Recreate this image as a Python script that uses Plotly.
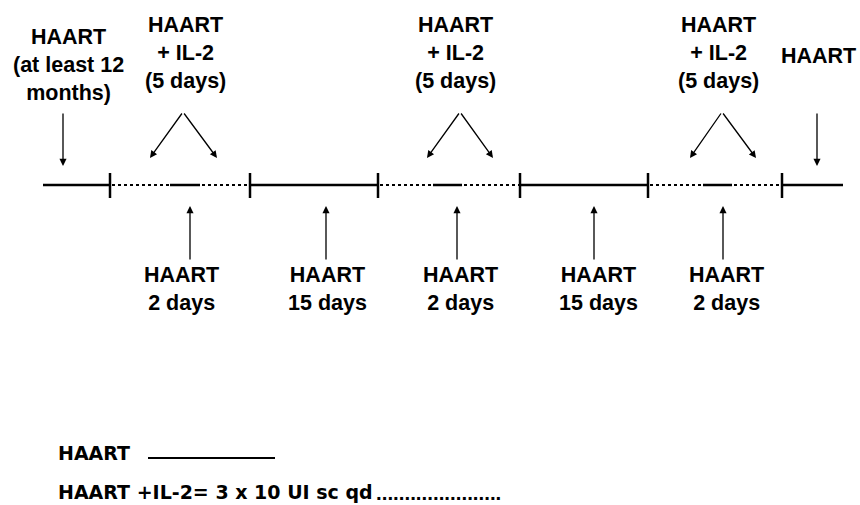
import plotly.graph_objects as go

# ---- data (pixel-space diagram coordinates) ----
timeline_y = 185
phase_bounds = [110, 250, 378, 520, 648, 782]          # tick marks
haart_segments = [(43, 110), (250, 378), (520, 648), (782, 843)]
il2_periods = [(110, 250), (378, 520), (648, 782)]
il2_break = [(170, 200), (433, 462), (703, 732)]       # solid "HAART 2 days" inside IL-2 periods

top_labels = ["HAART<br>(at least 12<br>months)", "HAART<br>+ IL-2<br>(5 days)",
              "HAART<br>+ IL-2<br>(5 days)", "HAART<br>+ IL-2<br>(5 days)", "HAART"]
top_label_x = [68, 185, 455, 718, 818]
top_label_y = [65, 53, 53, 53, 56]

down_arrow_x = [63, 817]
v_apex = [(183, 112), (460, 112), (722, 112)]
v_ends = [((150, 158), (217, 158)), ((427, 158), (493, 158)), ((690, 158), (756, 158))]

bottom_labels = ["HAART<br>2 days", "HAART<br>15 days", "HAART<br>2 days",
                 "HAART<br>15 days", "HAART<br>2 days"]
bottom_arrow_x = [190, 326, 457, 594, 723]
bottom_label_x = [181, 327, 460, 598, 726]

legend_texts = ["HAART", "HAART +IL-2= 3 x 10 UI sc qd"]
legend_dots = "." * 22

FONT = dict(family="Liberation Sans, Arial, sans-serif", size=21.5, color="black", weight="bold")
LEG_FONT = dict(family="DejaVu Sans, sans-serif", size=19, color="black", weight="bold")
DOT_FONT = dict(family="Liberation Sans, Arial, sans-serif", size=20.5, color="black", weight="bold")

W, H = 860, 505

fig = go.Figure()

def seg(x0, x1, y0, y1, width=2, dash="solid"):
    fig.add_trace(go.Scatter(x=[x0, x1], y=[y0, y1], mode="lines",
                             line=dict(color="black", width=width, dash=dash),
                             hoverinfo="skip", showlegend=False))

for a, b in haart_segments:
    seg(a, b, timeline_y, timeline_y, width=2.5)
for (a, b), (c, d) in zip(il2_periods, il2_break):
    seg(a + 2, c, timeline_y, timeline_y, width=2, dash="dot")
    seg(c, d, timeline_y, timeline_y, width=2.5)
    seg(d + 2, b, timeline_y, timeline_y, width=2, dash="dot")
for x in phase_bounds:
    seg(x, x, timeline_y - 12, timeline_y + 13, width=2.5)

annotations = []

def arrow(x0, y0, x1, y1):
    annotations.append(dict(x=x1, y=y1, ax=x0, ay=y0, xref="x", yref="y", axref="x", ayref="y",
                            showarrow=True, arrowhead=2, arrowsize=1.1, arrowwidth=1.3,
                            arrowcolor="black", text=""))

for x in down_arrow_x:
    arrow(x, 112, x, 166)
for (ax_, ay_), ends in zip(v_apex, v_ends):
    for (ex, ey) in ends:
        arrow(ax_, ay_, ex, ey)
for x in bottom_arrow_x:
    arrow(x, 261, x, 206)

for t, x, y in zip(top_labels, top_label_x, top_label_y):
    annotations.append(dict(x=x, y=y, xref="x", yref="y", text=t, showarrow=False,
                            xanchor="center", yanchor="middle", align="center", font=FONT))
for t, x in zip(bottom_labels, bottom_label_x):
    annotations.append(dict(x=x, y=289, xref="x", yref="y", text=t, showarrow=False,
                            xanchor="center", yanchor="middle", align="center", font=FONT))

annotations.append(dict(x=56, y=453, xref="x", yref="y", text=legend_texts[0], showarrow=False,
                        xanchor="left", yanchor="middle", font=LEG_FONT))
seg(148, 275, 458, 458, width=1.8)
annotations.append(dict(x=56, y=492, xref="x", yref="y", text=legend_texts[1], showarrow=False,
                        xanchor="left", yanchor="middle", font=LEG_FONT))
annotations.append(dict(x=374, y=492, xref="x", yref="y", text=legend_dots, showarrow=False,
                        xanchor="left", yanchor="middle", font=DOT_FONT))

fig.update_layout(
    width=W, height=H,
    margin=dict(l=0, r=0, t=0, b=0, pad=0),
    paper_bgcolor="white", plot_bgcolor="white",
    xaxis=dict(range=[0, W], visible=False, fixedrange=True),
    yaxis=dict(range=[H, 0], visible=False, fixedrange=True),
    annotations=annotations,
    showlegend=False,
)

fig.write_html("out.html", config={"displayModeBar": False},
               post_script="document.body.style.margin='0';document.body.style.overflow='hidden';")
